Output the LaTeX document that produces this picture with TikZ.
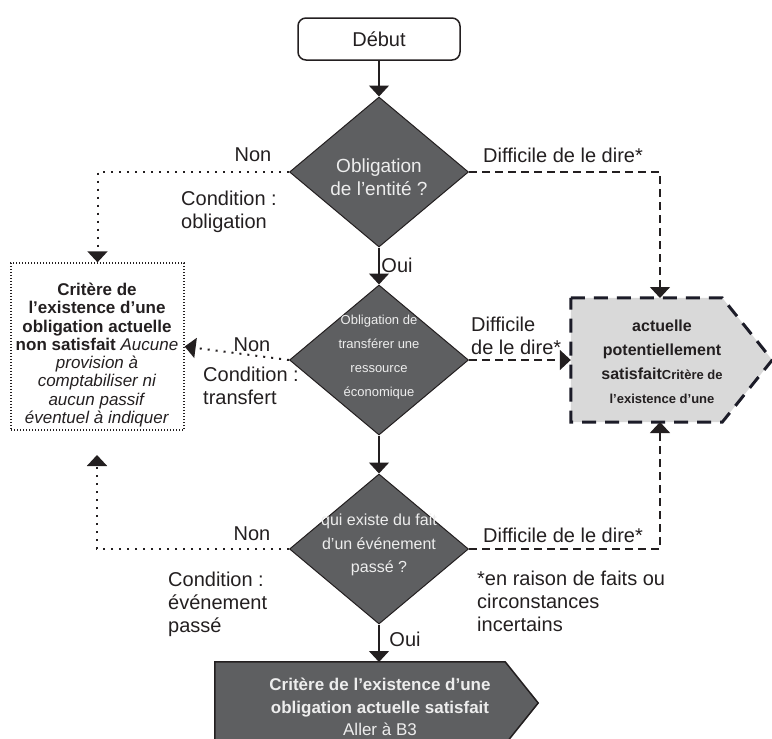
\documentclass[tikz,border=0pt]{standalone}
\usepackage{fontspec}
\setmainfont{Liberation Sans}
\usetikzlibrary{arrows.meta,shapes.geometric,calc}
\definecolor{dgray}{HTML}{5E5F61}
\definecolor{lgray}{HTML}{D9D9D9}
\definecolor{wtext}{HTML}{EDEDED}
\definecolor{navy}{HTML}{1C1C28}
\definecolor{ink}{HTML}{231F20}
\begin{document}
\begin{tikzpicture}[x=1pt,y=-1pt,
  tipend/.style={-{Triangle[width=20pt,length=11pt]}},
  solidarrow/.style={draw=ink,line width=1.5pt,tipend},
  dotarrow/.style={draw=ink,line width=2pt,dash pattern=on 2pt off 6pt,tipend},
  dasharrow/.style={draw=ink,line width=1.6pt,dash pattern=on 8pt off 5pt,tipend},
  decision/.style={diamond,draw=ink,line width=1pt,fill=dgray,minimum width=179pt,minimum height=150pt,inner sep=0pt},
  dtext/.style={text=wtext,align=center,inner sep=0pt},
  lbl/.style={font=\fontsize{20}{23}\selectfont,inner sep=0pt,text=ink},
  mlbl/.style={lbl,align=left,anchor=north west}
]
\useasboundingbox (0,0) rectangle (772,739);

% start
\node[draw=ink,rounded corners=8pt,line width=1.5pt,minimum width=162pt,minimum height=42pt,
      font=\fontsize{20}{24}\selectfont,text=ink] (start) at (379,39) {Début};

% decisions
\node[decision] (d1) at (379,172) {};
\node[dtext,font=\fontsize{19}{23}\selectfont] (d1t) at (379,177) {Obligation\\de l’entité ?};
\node[decision] (d2) at (379,360) {};
\node[dtext,font=\fontsize{13}{24}\selectfont] (d2t) at (379,357) {Obligation de\\transférer une\\ressource\\économique};
\node[decision] (d3) at (379,549) {};
\node[dtext,font=\fontsize{16}{23.5}\selectfont] (d3t) at (379,545) {qui existe du fait\\d’un événement\\passé ?};

% left box
\node[draw=ink,line width=1.3pt,dash pattern=on 1.3pt off 1.7pt,minimum width=173pt,minimum height=167pt,inner sep=0pt] (lb) at (97.5,346.5) {};
\node[align=center,inner sep=0pt,text=ink,font=\fontsize{17}{18.3}\selectfont] (lbt) at (97,355)
 {\textbf{Critère de}\\\textbf{l’existence d’une}\\\textbf{obligation actuelle}\\\textbf{non satisfait} \textit{Aucune}\\\textit{provision à}\\\textit{comptabiliser ni}\\\textit{aucun passif}\\\textit{éventuel à indiquer}};

% right box
\node[minimum width=151pt,minimum height=124pt,inner sep=0pt] (rb) at (646.5,360) {};
\filldraw[fill=lgray,draw=navy,line width=3pt,dash pattern=on 14pt off 9pt]
  (rb.north west) -- (rb.north east) -- ($(rb.east)+(50,0)$) -- (rb.south east) -- (rb.south west) -- cycle;
\node[align=center,inner sep=0pt,text=ink,font=\bfseries\fontsize{16}{24}\selectfont] (rbt) at (662,362)
 {actuelle\\potentiellement\\satisfait{\fontsize{13}{24}\selectfont Critère de}\\{\fontsize{13}{24}\selectfont l’existence d’une}};
\coordinate (rbN) at (660,298);
\coordinate (rbS) at (660,422);

% bottom box
\node[minimum width=290pt,minimum height=82pt,inner sep=0pt] (bb) at (360,703) {};
\filldraw[fill=dgray,draw=ink,line width=1.5pt]
  (bb.north west) -- (bb.north east) -- ($(bb.east)+(33,0)$) -- (bb.south east) -- (bb.south west) -- cycle;
\node[align=center,inner sep=0pt,text=wtext,font=\fontsize{17}{22.5}\selectfont] (bbt) at (380,707)
 {\textbf{Critère de l’existence d’une}\\\textbf{obligation actuelle satisfait}\\Aller à B3};
\coordinate (bbN) at (379,662);

% solid connectors
\draw[solidarrow] (start.south) -- (d1.north);
\draw[solidarrow] (d1.south) -- (d2.north);
\draw[solidarrow] (d2.south) -- (d3.north);
\draw[solidarrow] (d3.south) -- (bbN);

% dotted connectors
\draw[dotarrow] (d1.west) -| (lb.north);
\draw[dotarrow] (d2.west) -- (lb.east);
\coordinate (lbS) at (97,455);
\draw[dotarrow] (d3.west) -| (lbS);

% dashed connectors
\draw[dasharrow] (d1.east) -| (rbN);
\draw[dasharrow] (d2.east) -- (rb.west);
\draw[dasharrow] (d3.east) -| (rbS);

% labels
\node[lbl] (non1) at (253,155) {Non};
\node[mlbl] (cond1) at (181,191) {Condition :\\obligation};
\node[lbl,anchor=west] (diff1) at (483,155) {Difficile de le dire*};
\node[lbl] (oui1) at (397,265) {Oui};
\node[lbl] (non2) at (252,345) {Non};
\node[mlbl] (cond2) at (203,367) {Condition :\\transfert};
\node[mlbl] (diff2) at (471,317) {Difficile\\de le dire*};
\node[lbl] (non3) at (252,534) {Non};
\node[mlbl] (cond3) at (168,572) {Condition :\\événement\\passé};
\node[lbl,anchor=west] (diff3) at (483,535) {Difficile de le dire*};
\node[mlbl] (note) at (477,571) {*en raison de faits ou\\circonstances\\incertains};
\node[lbl] (oui3) at (405,639) {Oui};
\end{tikzpicture}
\end{document}
